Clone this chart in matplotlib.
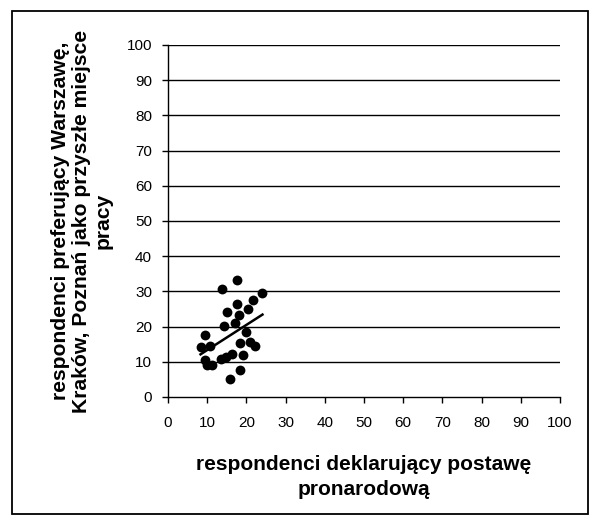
import matplotlib
matplotlib.use("Agg")
import matplotlib.pyplot as plt
import numpy as np
from matplotlib.patches import Rectangle

plt.rcParams['font.family'] = ['Liberation Sans', 'DejaVu Sans']

x_vals = [17.6, 13.9, 24.1, 21.7, 17.5, 15.1, 20.4, 18.0, 17.2, 14.3,
          19.8, 18.4, 20.9, 22.1, 19.1, 16.2, 14.8, 13.4, 18.4, 15.9,
          9.4, 8.3, 10.6, 9.4, 10.0, 11.1]
y_vals = [33.3, 30.8, 29.6, 27.6, 26.3, 24.1, 24.9, 23.4, 21.1, 20.3,
          18.5, 15.3, 15.7, 14.6, 12.0, 12.1, 11.5, 10.7, 7.8, 5.0,
          17.5, 14.2, 14.4, 10.5, 9.1, 9.1]
x_ticks = [0, 10, 20, 30, 40, 50, 60, 70, 80, 90, 100]
y_ticks = [0, 10, 20, 30, 40, 50, 60, 70, 80, 90, 100]
x_label = "respondenci deklarujący postawę\npronarodową"
y_label = "respondenci preferujący Warszawę,\nKraków, Poznań jako przyszłe miejsce\npracy"

W, H = 590, 515
fig = plt.figure(figsize=(W / 100, H / 100), dpi=100)
ax = fig.add_axes([168 / W, 1 - 397 / H, (560 - 168) / W, (397 - 45) / H])

for yv in y_ticks[1:]:
    ax.axhline(yv, color='black', lw=1.0, zorder=1)

ax.scatter(x_vals, y_vals, s=50, color='black', zorder=3, linewidths=0)

xa = np.array(x_vals)
ya = np.array(y_vals)
k, b = np.polyfit(xa, ya, 1)
xl = np.array([xa.min(), xa.max()])
ax.plot(xl, k * xl + b, color='black', lw=1.8, zorder=4)

ax.set_xlim(0, 100)
ax.set_ylim(0, 100)
ax.set_xticks(x_ticks)
ax.set_yticks(y_ticks)
ax.tick_params(axis='both', direction='out', length=4.5, width=1, labelsize=11, color='black')
ax.tick_params(axis='x', pad=9)
ax.tick_params(axis='y', pad=7)
ax.spines['top'].set_visible(False)
ax.spines['right'].set_visible(False)
ax.spines['left'].set_linewidth(1)
ax.spines['bottom'].set_linewidth(1)

ax.set_xlabel(x_label, fontsize=15, fontweight='bold', labelpad=18, linespacing=1.4)
ax.set_ylabel(y_label, fontsize=15.2, fontweight='bold', labelpad=10, linespacing=1.15)

fig.patches.append(Rectangle((12 / W, 1 / H), (588 - 12) / W, (H - 11 - 1) / H,
                             transform=fig.transFigure, fill=False,
                             edgecolor='black', lw=1.3))

fig.savefig("out.png", dpi=100)
